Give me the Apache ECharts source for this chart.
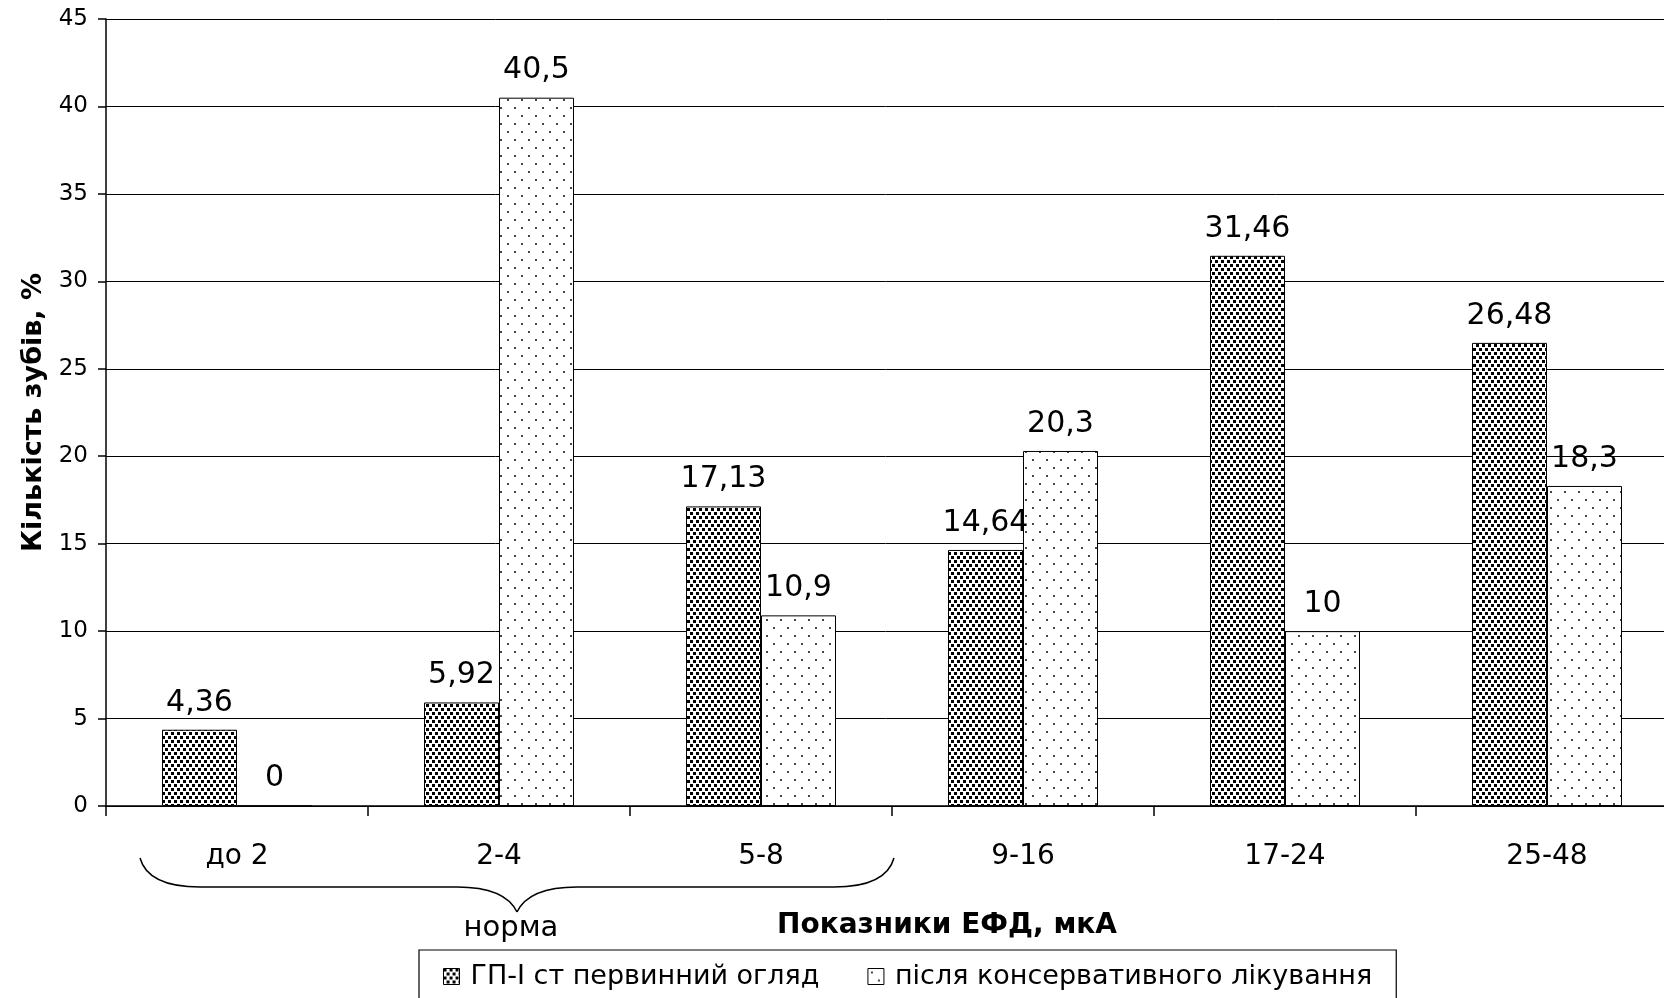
<!DOCTYPE html>
<html><head><meta charset="utf-8">
<script src="https://cdn.jsdelivr.net/npm/echarts@6/dist/echarts.min.js"></script>
<style>html,body{margin:0;padding:0;background:#fff}#c{width:1664px;height:998px}</style>
</head><body><div id="c"></div>
<script>
const categories = ['до 2', '2-4', '5-8', '9-16', '17-24', '25-48'];
const seriesNames = ['ГП-І ст первинний огляд', 'після консервативного лікування'];
const primaryValues = [4.36, 5.92, 17.13, 14.64, 31.46, 26.48];
const afterValues = [0, 40.5, 10.9, 20.3, 10, 18.3];
const yTicks = { min: 0, max: 45, interval: 5 };

function densePattern() {
  const c = document.createElement('canvas'); c.width = 12; c.height = 8;
  const g = c.getContext('2d');
  g.fillStyle = '#fff'; g.fillRect(0, 0, 12, 8);
  g.fillStyle = '#000';
  g.fillRect(0, 0, 3, 3); g.fillRect(6, 0, 3, 3); g.fillRect(3, 4, 3, 3); g.fillRect(9, 4, 3, 3);
  return c;
}
function sparsePattern() {
  const c = document.createElement('canvas'); c.width = 14; c.height = 16;
  const g = c.getContext('2d');
  g.fillStyle = '#fff'; g.fillRect(0, 0, 14, 16);
  g.fillStyle = '#444';
  g.fillRect(3, 3, 2, 2); g.fillRect(10, 11, 2, 2);
  return c;
}
const fmt = p => String(p.value).replace('.', ',');
const FONT = '"DejaVu Sans", sans-serif';
const braceStyle = { fill: null, stroke: '#000', lineWidth: 1.5 };

const chart = echarts.init(document.getElementById('c'), null, { renderer: 'canvas' });
chart.setOption({
  animation: false,
  backgroundColor: '#fff',
  textStyle: { fontFamily: FONT, color: '#000' },
  grid: { left: 106, top: 19, width: 1572, bottom: 192, containLabel: false, outerBoundsMode: 'none' },
  legend: {
    left: 419, top: 950,
    borderColor: '#000', borderWidth: 1.2,
    padding: [13, 24, 13, 24],
    icon: 'rect',
    itemWidth: 16, itemHeight: 16, itemGap: 48,
    itemStyle: { borderColor: '#000', borderWidth: 1 },
    textStyle: { fontSize: 27, fontFamily: FONT, color: '#000', padding: [0, 0, 0, 6] },
    data: seriesNames
  },
  xAxis: {
    type: 'category', data: categories,
    axisLine: { lineStyle: { color: '#000', width: 1.5 } },
    axisTick: { show: true, length: 10, lineStyle: { color: '#000', width: 1.5 } },
    axisLabel: { color: '#000', fontSize: 28, margin: 37, fontFamily: FONT }
  },
  yAxis: {
    type: 'value', min: yTicks.min, max: yTicks.max, interval: yTicks.interval,
    name: 'Кількість зубів, %', nameLocation: 'middle', nameGap: 50,
    nameTextStyle: { fontSize: 27, fontWeight: 'bold', color: '#000', fontFamily: FONT },
    axisLine: { show: true, lineStyle: { color: '#000', width: 1.5 } },
    axisTick: { show: true, length: 8, lineStyle: { color: '#000', width: 1.5 } },
    axisLabel: { color: '#000', fontSize: 23, margin: 18, fontFamily: FONT },
    splitLine: { lineStyle: { color: '#000', width: 1 } }
  },
  series: [
    {
      name: seriesNames[0], type: 'bar', data: primaryValues, barWidth: 75, barGap: '0%',
      itemStyle: { color: { image: densePattern(), repeat: 'repeat' }, borderColor: '#000', borderWidth: 1 },
      label: { show: true, position: 'top', distance: 12, fontSize: 30, color: '#000', fontFamily: FONT, formatter: fmt }
    },
    {
      name: seriesNames[1], type: 'bar', data: afterValues, barWidth: 75,
      itemStyle: { color: { image: sparsePattern(), repeat: 'repeat' }, borderColor: '#000', borderWidth: 1 },
      label: { show: true, position: 'top', distance: 12, fontSize: 30, color: '#000', fontFamily: FONT, formatter: fmt }
    }
  ],
  graphic: [
    { type: 'bezierCurve', shape: { x1: 140, y1: 858, x2: 200, y2: 887, cpx1: 148, cpy1: 887 }, style: braceStyle },
    { type: 'line', shape: { x1: 200, y1: 887, x2: 457, y2: 887 }, style: braceStyle },
    { type: 'bezierCurve', shape: { x1: 457, y1: 887, x2: 517, y2: 912, cpx1: 505, cpy1: 887 }, style: braceStyle },
    { type: 'bezierCurve', shape: { x1: 517, y1: 912, x2: 577, y2: 887, cpx1: 529, cpy1: 887 }, style: braceStyle },
    { type: 'line', shape: { x1: 577, y1: 887, x2: 834, y2: 887 }, style: braceStyle },
    { type: 'bezierCurve', shape: { x1: 834, y1: 887, x2: 894, y2: 858, cpx1: 886, cpy1: 887 }, style: braceStyle },
    { type: 'text', x: 511, y: 928, style: { text: 'норма', font: '29px ' + FONT, fill: '#000', align: 'center', verticalAlign: 'middle' } },
    { type: 'text', x: 947, y: 926, style: { text: 'Показники ЕФД, мкА', font: 'bold 28px ' + FONT, fill: '#000', align: 'center', verticalAlign: 'middle' } }
  ]
});
</script></body></html>
